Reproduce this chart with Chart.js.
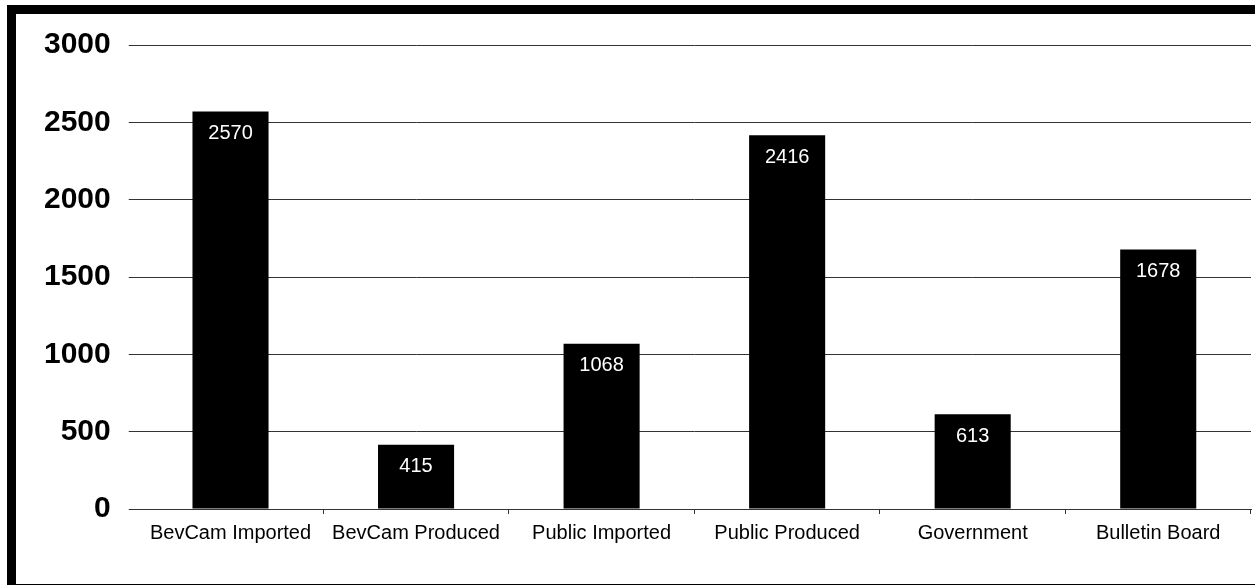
<!DOCTYPE html>
<html>
<head>
<meta charset="utf-8">
<script src="https://cdn.jsdelivr.net/npm/chart.js@4"></script>
<style>
    html, body { margin: 0; padding: 0; background: #fff; }
    #wrap { position: relative; width: 1255px; height: 586px; overflow: hidden; }
    #frame {
        position: absolute; left: 7px; top: 5px; right: -20px; bottom: 1px;
        border-top: 9px solid #000; border-left: 9px solid #000; border-bottom: 1px solid #000;
    }
    canvas { position: absolute; left: 0; top: 0; }
</style>
</head>
<body>
<div id="wrap">
    <div id="frame"></div>
    <canvas id="sourceChart" width="1255" height="586"></canvas>
</div>
<script>
// ==============================
// DATA
// ==============================
const categories = ['BevCam Imported', 'BevCam Produced', 'Public Imported', 'Public Produced', 'Government', 'Bulletin Board'];
const counts = [2570, 415, 1068, 2416, 613, 1678];
const yTicks = [0, 500, 1000, 1500, 2000, 2500, 3000];

// white value labels just inside the top of each bar
const barValueLabels = {
    id: 'barValueLabels',
    afterDatasetsDraw(chart) {
        const ctx = chart.ctx;
        const meta = chart.getDatasetMeta(0);
        ctx.save();
        ctx.fillStyle = '#fff';
        ctx.font = '20px "Liberation Sans", Arial, sans-serif';
        ctx.textAlign = 'center';
        ctx.textBaseline = 'middle';
        meta.data.forEach((bar, i) => {
            ctx.fillText(String(counts[i]), bar.x, bar.y + 22);
        });
        ctx.restore();
    }
};

const ctx = document.getElementById('sourceChart').getContext('2d');
new Chart(ctx, {
    type: 'bar',
    data: {
        labels: categories,
        datasets: [{
            data: counts,
            backgroundColor: '#000',
            borderWidth: 0,
            categoryPercentage: 1,
            barPercentage: 0.41
        }]
    },
    options: {
        responsive: false,
        animation: false,
        layout: { padding: { left: 26, right: 4, top: 45, bottom: 34 } },
        plugins: {
            legend: { display: false },
            tooltip: { enabled: false }
        },
        scales: {
            x: {
                grid: {
                    offset: true,
                    drawOnChartArea: false,
                    drawTicks: true,
                    tickLength: 5,
                    color: (c) => c.index === 0 ? 'rgba(0,0,0,0)' : '#333'
                },
                border: { display: true, color: '#333' },
                ticks: {
                    color: '#000',
                    padding: 7,
                    maxRotation: 0,
                    autoSkip: false,
                    font: { family: '"Liberation Sans", Arial, sans-serif', size: 20 }
                }
            },
            y: {
                min: 0,
                max: 3000,
                afterBuildTicks: (scale) => { scale.ticks = yTicks.map(v => ({ value: v })); },
                grid: { color: '#333', tickLength: 9, drawTicks: true },
                border: { display: false },
                ticks: {
                    color: '#000',
                    padding: 18,
                    callback: (v) => String(v),
                    font: { family: '"Liberation Sans", Arial, sans-serif', size: 30, weight: 'bold' }
                }
            }
        }
    },
    plugins: [barValueLabels]
});
</script>
</body>
</html>
